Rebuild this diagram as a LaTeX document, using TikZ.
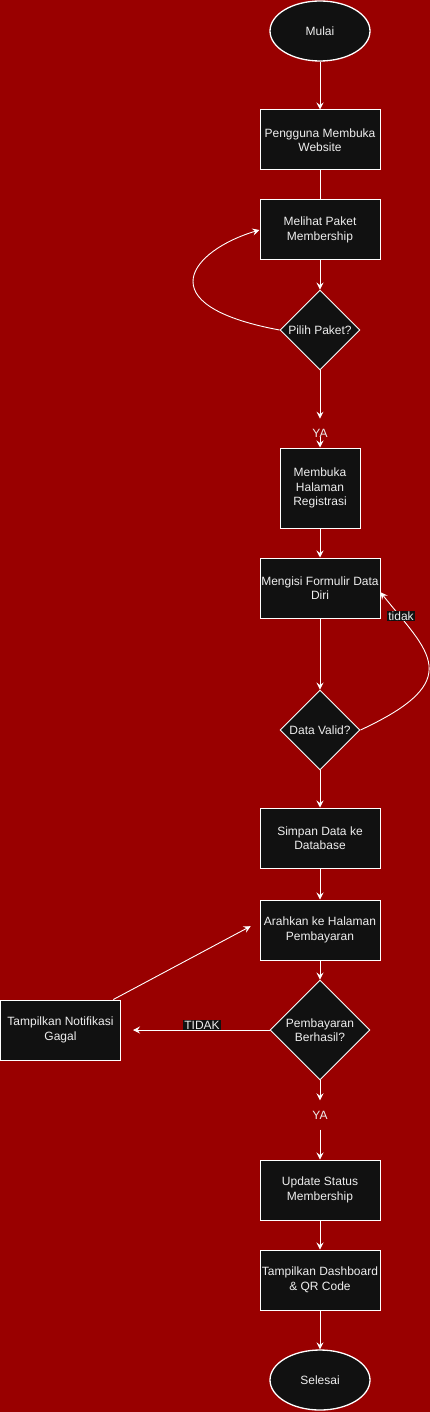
\documentclass[tikz,border=0pt]{standalone}
\usepackage{fontspec}
\setmainfont{Liberation Sans}
\usetikzlibrary{arrows.meta,shapes.geometric}
\definecolor{bgred}{HTML}{990000}
\definecolor{boxfill}{HTML}{111111}
\definecolor{txt}{HTML}{EEEEEE}

\begin{document}
\begin{tikzpicture}[x=1pt, y=-1pt,
  every node/.style={font=\fontsize{12}{14.5}\selectfont, text=txt, align=center},
  box/.style={draw=white, fill=boxfill, line width=1pt, minimum width=120pt, minimum height=60pt, inner sep=1pt},
  term/.style={draw=white, fill=boxfill, ellipse, line width=1.3pt, minimum width=100pt, minimum height=60pt},
  cond/.style={draw=white, fill=boxfill, diamond, aspect=1, line width=0.9pt, minimum width=80pt, minimum height=80pt, inner sep=0pt},
  link/.style={draw=white, line width=0.9pt},
  flow/.style={link, -{Stealth[length=7pt, width=7pt, inset=2.5pt]}},
  tag/.style={fill=boxfill, inner sep=1pt}]
\path[use as bounding box, fill=bgred] (0,0) rectangle (430,1412);

\node[term] (mulai) at (320,31) {Mulai};
\node[box] (buka) at (320,140) {Pengguna Membuka\\Website};
\node[box] (lihat) at (320,230) {Melihat Paket\\Membership};
\node[cond] (pilih) at (320,330) {Pilih Paket?};
\node[inner sep=0pt] (ya1) at (320,433) {YA};
\node[box, minimum width=80pt, minimum height=80pt] (regis) at (320,488) {Membuka\\Halaman\\Registrasi};
\node[box] (isi) at (320,588) {Mengisi Formulir Data\\Diri};
\node[cond] (valid) at (320,730) {Data Valid?};
\node[box] (simpan) at (320,838) {Simpan Data ke\\Database};
\node[box] (arah) at (320,930) {Arahkan ke Halaman\\Pembayaran};
\node[cond, minimum width=100pt, minimum height=100pt] (bayar) at (320,1030) {Pembayaran\\Berhasil?};
\node[box] (gagal) at (60.5,1030) {Tampilkan Notifikasi\\Gagal};
\node[inner sep=0pt, minimum height=29pt] (ya2) at (320,1115) {YA};
\node[box] (status) at (320,1190) {Update Status\\Membership};
\node[box] (dash) at (320,1280) {Tampilkan Dashboard\\\& QR Code};
\node[term] (selesai) at (320,1380) {Selesai};

\draw[flow] (mulai) -- (buka);
\draw[link] (buka) -- (lihat);
\draw[flow] (lihat) -- (pilih);
\draw[flow] (pilih.west) .. controls (145,305) and (192,250) .. (lihat.west);
\draw[flow, shorten >=10pt] (pilih) -- (ya1);
\draw[flow] (ya1) -- (regis);
\draw[flow] (regis) -- (isi);
\draw[flow] (isi) -- (valid);
\draw[flow] (valid.east) .. controls (468,680) and (428,652) .. (isi.-4);
\draw[flow] (valid) -- (simpan);
\draw[flow] (simpan) -- (arah);
\draw[flow] (arah) -- (bayar);
\draw[flow, shorten >=12pt] (bayar) -- (gagal);
\draw[flow, shorten >=10pt] (gagal.30) -- (arah.172);
\draw[flow] (bayar) -- (ya2);
\draw[flow] (ya2) -- (status);
\draw[flow] (status) -- (dash);
\draw[flow] (dash) -- (selesai);

\node[tag] (tidak) at (401,616) {tidak};
\node[tag] (gagaltag) at (202,1025) {TIDAK};
\end{tikzpicture}
\end{document}
